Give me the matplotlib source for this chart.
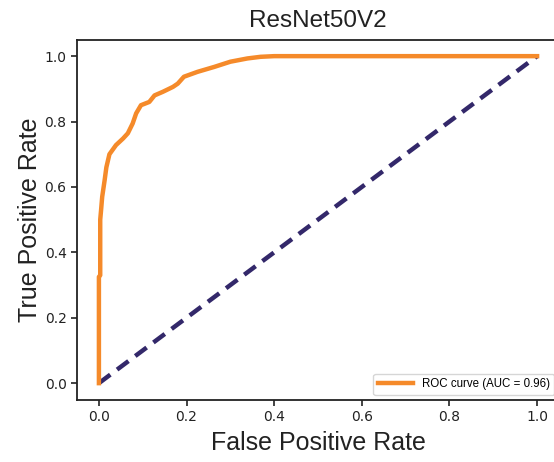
import matplotlib
matplotlib.use("Agg")
import matplotlib.pyplot as plt

fpr = [0.0, 0.0, 0.0, 0.003, 0.003, 0.005, 0.0075, 0.013, 0.017, 0.024, 0.039,
       0.055, 0.066, 0.077, 0.085, 0.096, 0.115, 0.127, 0.146, 0.169, 0.180,
       0.194, 0.225, 0.263, 0.30, 0.339, 0.369, 0.40, 1.0]
tpr = [0.0, 0.10, 0.325, 0.33, 0.50, 0.53, 0.57, 0.62, 0.66, 0.70, 0.728,
       0.748, 0.764, 0.794, 0.825, 0.85, 0.86, 0.88, 0.891, 0.906, 0.916,
       0.937, 0.952, 0.967, 0.983, 0.993, 0.998, 1.0, 1.0]
diag = [0.0, 1.0]
auc_value = 0.96
title = "ResNet50V2"

fig = plt.figure(figsize=(5.54, 4.62), dpi=100)
ax = fig.add_axes([77 / 554, 1 - 399.5 / 462, 482 / 554, 359.7 / 462])

ax.plot(fpr, tpr, color="#f58a2a", lw=3.2,
        label="ROC curve (AUC = %0.2f)" % auc_value, zorder=3)
ax.plot(diag, diag, color="#33286a", lw=3.2, linestyle=(0, (3.2, 1.9)), zorder=2)

ax.set_xlim(-0.05, 1.05)
ax.set_ylim(-0.05, 1.05)
ax.set_xticks([0.0, 0.2, 0.4, 0.6, 0.8, 1.0])
ax.set_yticks([0.0, 0.2, 0.4, 0.6, 0.8, 1.0])
ax.tick_params(labelsize=10, colors="#222222", length=4, width=1.2)
for s in ax.spines.values():
    s.set_linewidth(1.3)
    s.set_color("#222222")

lab_font = dict(family="Liberation Sans", size=18, color="#222222")
ax.set_xlabel("False Positive Rate", fontdict=lab_font, labelpad=5)
ax.set_ylabel("True Positive Rate", fontdict=lab_font, labelpad=2)
ax.set_title(title, fontdict=dict(family="Liberation Sans", size=17.5, color="#222222"), pad=9)

leg = ax.legend(loc="lower right", prop=dict(family="Liberation Sans", size=8.3),
                handlelength=3, borderaxespad=0.4, fancybox=True)

fig.savefig("out.png", dpi=100)
